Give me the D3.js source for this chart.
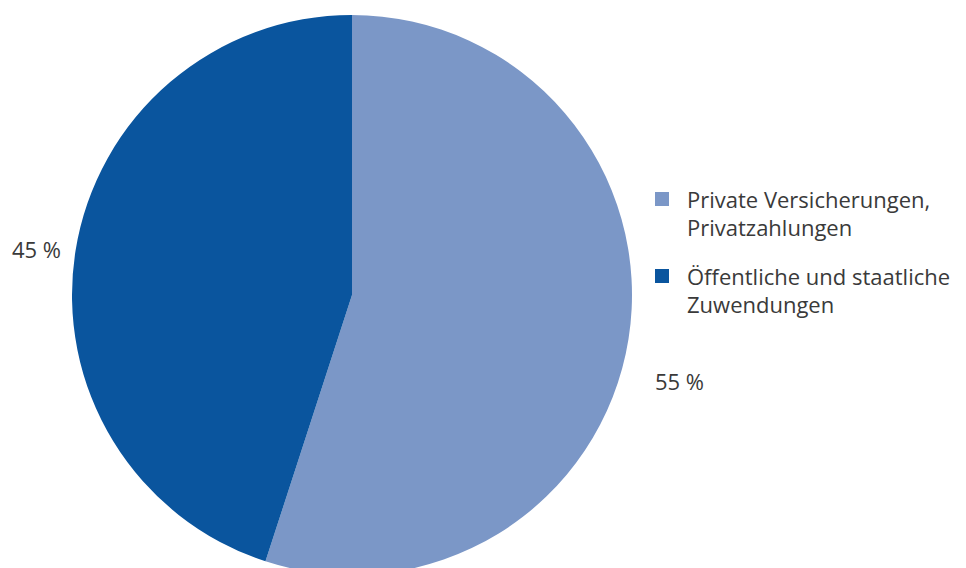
<!DOCTYPE html>
<html>
<head>
<meta charset="utf-8">
<script src="https://cdn.jsdelivr.net/npm/d3@7"></script>
<style>
  html, body { margin: 0; padding: 0; background: #ffffff; }
  svg { display: block; }
  text { font-family: "Open Sans", "Noto Sans", sans-serif; fill: #3a3a3a; }
</style>
</head>
<body>
<svg id="chart" width="966" height="568"></svg>
<script>
// Funding sources (share in %)
const categories = ["Private Versicherungen, Privatzahlungen", "Öffentliche und staatliche Zuwendungen"];
const legendLines = [["Private Versicherungen,", "Privatzahlungen"], ["Öffentliche und staatliche", "Zuwendungen"]];
const values = [55, 45];
const valueLabels = ["55 %", "45 %"];
const colors = ["#7b97c7", "#0a559e"];

const svg = d3.select("#chart");
const cx = 352, cy = 295, radius = 280;

const pie = d3.pie().sort(null).value(d => d)(values);
const arc = d3.arc().innerRadius(0).outerRadius(radius);

const g = svg.append("g").attr("transform", `translate(${cx},${cy})`);
g.selectAll("path")
  .data(pie)
  .join("path")
  .attr("d", arc)
  .attr("fill", (d, i) => colors[i]);

// Value labels placed outside the pie
const labelPos = [[655, 390], [12, 258]];
svg.selectAll("text.value")
  .data(valueLabels)
  .join("text")
  .attr("class", "value")
  .attr("x", (d, i) => labelPos[i][0])
  .attr("y", (d, i) => labelPos[i][1])
  .attr("font-size", 22)
  .text(d => d);

// Legend
const legend = svg.append("g").attr("transform", "translate(655,192)");
const item = legend.selectAll("g")
  .data(categories)
  .join("g")
  .attr("transform", (d, i) => `translate(0,${i * 77})`);
item.append("rect")
  .attr("width", 14).attr("height", 14)
  .attr("fill", (d, i) => colors[i]);
item.append("text")
  .attr("x", 32).attr("y", 16)
  .attr("font-size", 22)
  .selectAll("tspan")
  .data((d, i) => legendLines[i])
  .join("tspan")
  .attr("x", 32)
  .attr("dy", (d, j) => j === 0 ? 0 : 28)
  .text(d => d);
</script>
</body>
</html>
